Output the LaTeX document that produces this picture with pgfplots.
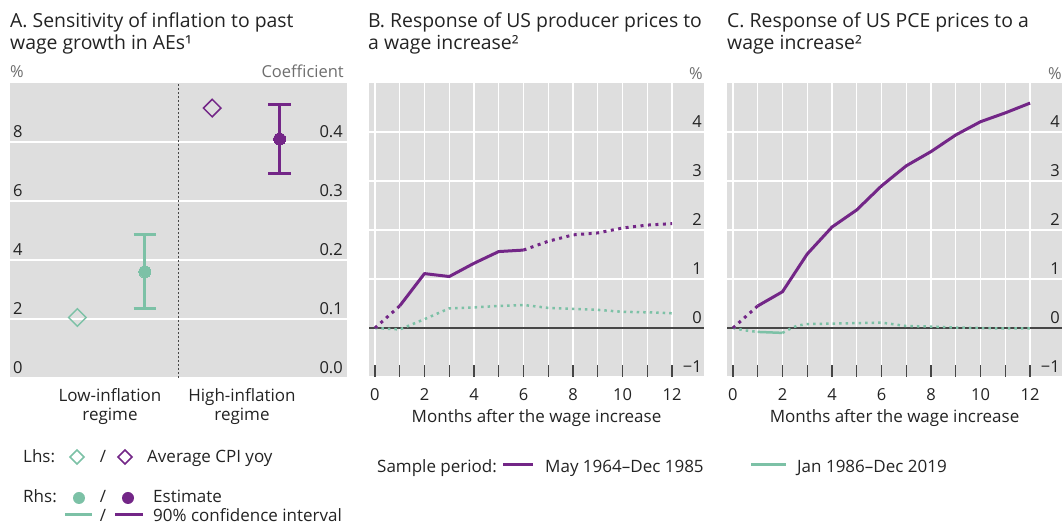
\documentclass[border=0pt]{standalone}
\usepackage{fontspec}
\setmainfont{Open Sans}
\usepackage{pgfplots}
\pgfplotsset{compat=1.18}
\usepackage{pgfplotstable}

\definecolor{bg}{RGB}{222,222,222}
\definecolor{pur}{RGB}{115,38,135}
\definecolor{grn}{RGB}{124,193,166}
\definecolor{txt}{RGB}{35,35,35}
\definecolor{unitc}{RGB}{110,110,110}
\definecolor{zl}{RGB}{70,70,70}

\newcommand\titlefont{\fontsize{19.4bp}{22bp}\selectfont}
\newcommand\tickfont{\fontsize{16.5bp}{18bp}\selectfont}
\newcommand\legfont{\fontsize{17bp}{20bp}\selectfont}

% Panel A data: x, estimate, lower, upper (coefficient, rhs)
\pgfplotstableread{
x est lo hi
0.4 0.180 0.117 0.243
}\tabAg
\pgfplotstableread{
x est lo hi
0.8 0.405 0.346 0.464
}\tabAp

% Panel B data
\pgfplotstableread{
x purB grnB
0 0.00 0.00
1 0.45 -0.03
2 1.11 0.18
3 1.05 0.40
4 1.32 0.42
5 1.56 0.45
6 1.59 0.47
7 1.77 0.41
8 1.90 0.39
9 1.94 0.37
10 2.04 0.33
11 2.10 0.32
12 2.13 0.30
}\tabB
% Panel C data
\pgfplotstableread{
x purC
0 0.00
1 0.45
2 0.74
3 1.51
4 2.06
5 2.41
6 2.90
7 3.31
8 3.60
9 3.94
10 4.21
11 4.39
12 4.59
}\tabCp
\pgfplotstableread{
x grnC
0 0.00
0.5 -0.05
1 -0.08
2 -0.10
2.3 -0.02
2.6 0.05
3 0.08
4 0.09
5 0.10
6 0.11
7 0.04
8 0.03
9 0.01
10 0.00
11 -0.01
12 -0.01
}\tabCg

\pgfplotsset{
  panel/.style={
    scale only axis,
    axis background/.style={fill=bg},
    axis line style={draw=none},
    major grid style={white, line width=1.3bp},
    ticklabel style={font=\tickfont, text=txt},
    /pgf/number format/assume math mode=true,
    clip=false,
  },
  linepanel/.style={
    panel,
    width=335bp, height=294bp,
    xmin=-0.24, xmax=13.29, ymin=-1, ymax=5,
    xmajorgrids, ymajorgrids,
    xtick={0,...,12},
    xticklabels={0,,2,,4,,6,,8,,10,,12},
    ytick={-1,0,1,2,3,4},
    yticklabels={−1,0,1,2,3,4},
    yticklabel pos=right,
    yticklabel style={anchor=south east, inner sep=0pt, xshift=-2bp, yshift=4bp},
    xticklabel style={anchor=base, inner sep=0pt, yshift=-24bp},
    tick align=inside,
    major tick length=12bp,
    xtick pos=bottom,
    xtick style={draw=zl, line width=1.2bp},
    ytick style={draw=none},
    xlabel={Months after the wage increase},
    xlabel style={font=\legfont, text=txt, at={(axis description cs:0.5,0)}, anchor=base, inner sep=0pt, yshift=-46bp},
  },
  solidP/.style={pur, line width=3bp, line join=round},
  dotP/.style={pur, line width=3bp, dash pattern=on 3bp off 4.5bp},
  solidG/.style={grn, line width=2.5bp, line join=round},
  dotG/.style={grn, line width=2.5bp, dash pattern=on 2.5bp off 4bp},
}

\begin{document}
\begin{tikzpicture}[x=1bp,y=1bp]
\useasboundingbox (0,0) rectangle (1063,529);

% ---------- Panel A ----------
\begin{axis}[panel, at={(10bp,151bp)}, anchor=south west,
  width=337bp, height=295bp,
  xmin=0, xmax=1, ymin=0, ymax=10,
  xtick=\empty,
  ytick={0,2,4,6,8}, yticklabels={0,2,4,6,8},
  ymajorgrids,
  yticklabel pos=left,
  yticklabel style={anchor=south west, inner sep=0pt, xshift=3bp, yshift=4bp},
  tick align=inside, major tick length=0pt, ytick style={draw=none},
]
\addplot[zl, line width=1.3bp, dash pattern=on 1.5bp off 2.5bp] coordinates {(0.5,0) (0.5,10)};
\addplot[grn, only marks, mark=square, mark size=6.2bp, mark options={rotate=45, draw=grn, line width=1.5bp, fill=none}] coordinates {(0.2,2.05)};
\addplot[pur, only marks, mark=square, mark size=6.2bp, mark options={rotate=45, draw=pur, line width=1.5bp, fill=none}] coordinates {(0.6,9.15)};
\end{axis}
\begin{axis}[scale only axis, at={(10bp,151bp)}, anchor=south west,
  width=337bp, height=295bp,
  xmin=0, xmax=1, ymin=0, ymax=0.5,
  axis line style={draw=none}, xtick=\empty,
  ytick={0,0.1,0.2,0.3,0.4}, yticklabels={0.0,0.1,0.2,0.3,0.4},
  yticklabel pos=right,
  ticklabel style={font=\tickfont, text=txt},
  yticklabel style={anchor=south east, inner sep=0pt, xshift=-4bp, yshift=4bp},
  tick align=inside, major tick length=0pt, ytick style={draw=none},
  clip=false,
]
% green confidence interval: stem and caps
\addplot[grn, line width=3bp] coordinates {(0.4,0.117) (0.4,0.243)};
\addplot[grn, line width=3bp] coordinates {(0.367,0.117) (0.433,0.117)};
\addplot[grn, line width=3bp] coordinates {(0.367,0.243) (0.433,0.243)};
\addplot[grn, only marks, mark=*, mark size=6bp, mark options={draw=grn, fill=grn, line width=0pt}] table[x=x, y=est] {\tabAg};
% purple confidence interval
\addplot[pur, line width=3bp] coordinates {(0.8,0.346) (0.8,0.464)};
\addplot[pur, line width=3bp] coordinates {(0.767,0.346) (0.833,0.346)};
\addplot[pur, line width=3bp] coordinates {(0.767,0.464) (0.833,0.464)};
\addplot[pur, only marks, mark=*, mark size=6bp, mark options={draw=pur, fill=pur, line width=0pt}] table[x=x, y=est] {\tabAp};
\end{axis}

% ---------- Panel B ----------
\begin{axis}[linepanel, at={(369bp,152bp)}, anchor=south west]
\addplot[zl, line width=1.3bp] coordinates {(-0.24,0) (13.29,0)};
\addplot[dotG] table[x=x, y=grnB] {\tabB};
\addplot[dotP, restrict x to domain=0:1] table[x=x, y=purB] {\tabB};
\addplot[solidP, restrict x to domain=1:6] table[x=x, y=purB] {\tabB};
\addplot[dotP, restrict x to domain=6:12] table[x=x, y=purB] {\tabB};
\end{axis}

% ---------- Panel C ----------
\begin{axis}[linepanel, at={(727bp,152bp)}, anchor=south west]
\addplot[zl, line width=1.3bp] coordinates {(-0.24,0) (13.29,0)};
\addplot[dotG, restrict x to domain=0:1] table[x=x, y=grnC] {\tabCg};
\addplot[solidG, restrict x to domain=1:2] table[x=x, y=grnC] {\tabCg};
\addplot[dotG, restrict x to domain=2:12] table[x=x, y=grnC] {\tabCg};
\addplot[dotP, restrict x to domain=0:1] table[x=x, y=purC] {\tabCp};
\addplot[solidP, restrict x to domain=1:12] table[x=x, y=purC] {\tabCp};
\end{axis}

% ---------- Titles ----------
\begin{scope}[every node/.style={inner sep=0pt, text=txt, font=\titlefont, anchor=base west}]
\node at (10,501) {A. Sensitivity of inflation to past};
\node at (10,479) {wage growth in AEs¹};
\node at (368,501) {B. Response of US producer prices to};
\node at (368,479) {a wage increase²};
\node at (727,501) {C. Response of US PCE prices to a};
\node at (727,479) {wage increase²};
\end{scope}

% ---------- Units ----------
\begin{scope}[every node/.style={inner sep=0pt, text=unitc, font=\tickfont}]
\node[anchor=base west] at (10,451) {\%};
\node[anchor=base east] at (344,451) {Coefficient};
\node[anchor=base east] at (703,449) {\%};
\node[anchor=base east] at (1062,449) {\%};
\end{scope}

% ---------- Category labels panel A ----------
\begin{scope}[every node/.style={inner sep=0pt, text=txt, font=\legfont, anchor=base}]
\node at (110,127) {Low-inflation};
\node at (110,108) {regime};
\node at (242,127) {High-inflation};
\node at (242,108) {regime};
\end{scope}

% ---------- Legends ----------
\begin{scope}[every node/.style={inner sep=0pt, text=txt, font=\legfont, anchor=base west}]
\node at (23,66) {Lhs:};
\draw[grn, line width=1.5bp] (77,79)--(84,72)--(77,65)--(70,72)--cycle;
\node[anchor=base] at (103,66) {/};
\draw[pur, line width=1.5bp] (125,79)--(132,72)--(125,65)--(118,72)--cycle;
\node at (147,66) {Average CPI yoy};
\node at (23,26) {Rhs:};
\fill[grn] (79,31) circle (6);
\node[anchor=base] at (103,26) {/};
\fill[pur] (128,31) circle (6);
\node at (153,26) {Estimate};
\draw[grn, line width=3bp] (65,14)--(92,14);
\node[anchor=base] at (103,7) {/};
\draw[pur, line width=3bp] (115,14)--(143,14);
\node at (153,7) {90\% confidence interval};
\node at (377,56) {Sample period:};
\draw[pur, line width=3bp] (503,64)--(533,64);
\node at (545,56) {May 1964–Dec 1985};
\draw[grn, line width=3bp] (751,64)--(786,64);
\node at (797,56) {Jan 1986–Dec 2019};
\end{scope}
\end{tikzpicture}
\end{document}
